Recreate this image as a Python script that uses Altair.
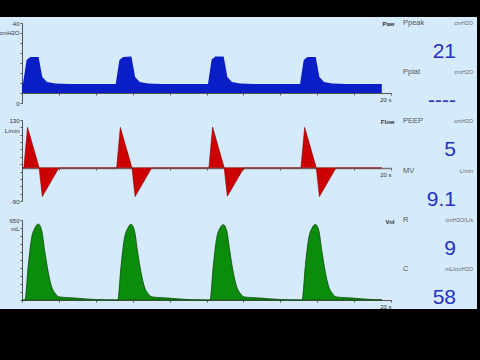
import altair as alt
import pandas as pd

# ---------------- data ----------------
# Airway pressure (cmH2O) vs time (s)
p_time = [0.0, 0.05, 0.25, 0.45, 0.90, 1.10, 1.35, 1.80, 2.55,
          5.08, 5.28, 5.48, 5.93, 6.13, 6.38, 6.83, 7.58,
          10.08, 10.28, 10.48, 10.93, 11.13, 11.38, 11.83, 12.58,
          15.07, 15.27, 15.47, 15.92, 16.12, 16.37, 16.82, 17.57, 19.5]
p_val = [9.5, 9.5, 21.5, 23.0, 23.0, 13.0, 10.5, 9.8, 9.5,
         9.5, 21.5, 23.0, 23.2, 13.0, 10.5, 9.8, 9.5,
         9.5, 21.8, 23.2, 23.2, 13.0, 10.5, 9.8, 9.5,
         9.5, 21.5, 23.0, 23.0, 13.0, 10.5, 9.8, 9.5, 9.5]

# Flow (L/min) vs time (s)
f_time = [0.0, 0.10, 0.30, 0.93, 1.10, 2.00,
          5.13, 5.33, 5.96, 6.13, 7.03,
          10.13, 10.33, 10.96, 11.13, 12.03,
          15.12, 15.32, 15.95, 16.12, 17.02, 19.5]
f_val = [0, 0, 110, 0, -78, 0,
         0, 110, 0, -78, 0,
         0, 111, 0, -77, 0,
         0, 110, 0, -78, 0, 0]

# Volume (mL) vs time (s)
v_time = [0.0, 0.16, 0.34, 0.52, 0.70, 0.88, 1.06, 1.24, 1.42, 1.61, 1.78, 2.06, 2.87, 4.06,
          5.19, 5.37, 5.55, 5.73, 5.91, 6.09, 6.27, 6.45, 6.64, 6.81, 7.09, 7.90, 9.09,
          10.19, 10.37, 10.55, 10.73, 10.91, 11.09, 11.27, 11.45, 11.64, 11.81, 12.09, 12.90, 14.09,
          15.18, 15.36, 15.54, 15.72, 15.90, 16.08, 16.26, 16.44, 16.63, 16.80, 17.08, 17.89, 19.08, 19.5]
v_val = [0, 0, 284, 504, 585, 617, 569, 390, 227, 106, 57, 24, 16, 3,
         0, 280, 500, 583, 615, 567, 388, 225, 105, 56, 24, 16, 3,
         0, 282, 502, 584, 612, 566, 389, 226, 106, 57, 24, 16, 3,
         0, 283, 503, 585, 614, 568, 390, 227, 106, 57, 24, 16, 3, 2]

# Monitored parameters (right column)
param_names = ["Ppeak", "Pplat", "PEEP", "MV", "R", "C"]
param_units = ["cmH2O", "cmH2O", "cmH2O", "L/min", "cmH2O/L/s", "mL/cmH2O"]
param_values = ["21", "----", "5", "9.1", "9", "58"]

# tick labels
p_ticks = [0, 5, 10, 15, 20, 25, 30, 35, 40]
f_ticks = [-90, -70, -50, -30, -10, 10, 30, 50, 70, 90, 110, 130]
v_ticks = [0, 65, 130, 195, 260, 325, 390, 455, 520, 585, 650]
t_ticks = [0, 2, 4, 6, 8, 10, 12, 14, 16, 18, 20]

p_df = pd.DataFrame({"t": p_time, "p": p_val})
f_df = pd.DataFrame({"t": f_time, "f": f_val})
v_df = pd.DataFrame({"t": v_time, "v": v_val})
par_df = pd.DataFrame({"idx": list(range(len(param_names))), "name": param_names,
                       "unit": param_units, "value": param_values})

# ---------------- layout ----------------
W, H = 477, 292
FONT = "Liberation Sans"
AX = "#555555"


def xscale():
    return alt.Scale(domain=[0, 20], range=[22, 391], nice=False, zero=False)


def xaxis(offset, title, title_y, dcolor=AX, dwidth=1.0):
    return alt.Axis(orient="bottom", offset=offset, values=t_ticks,
                    labelExpr="datum.value == 20 ? '20 s' : ''",
                    labelAlign="right", labelBaseline="top", labelPadding=1,
                    labelFlush=False, labelOverlap=False,
                    labelFontSize=6, labelColor="#333333", labelFont=FONT,
                    tickSize=2, tickColor=AX, domainColor=dcolor, domainWidth=dwidth,
                    grid=False, title=title, titleX=394, titleY=title_y,
                    titleAlign="right", titleBaseline="middle", titleFontSize=6,
                    titleFontWeight="bold", titleColor="#333333", titleFont=FONT)


def yaxis(vals, expr, title, title_y):
    return alt.Axis(orient="left", offset=-22, values=vals, labelExpr=expr,
                    labelPadding=1, labelFontSize=6, labelColor="#333333",
                    labelFont=FONT, labelOverlap=False, labelFlush=False,
                    labelBaseline="middle",
                    tickSize=2, tickColor=AX, domainColor=AX, grid=False,
                    title=title, titleAngle=0, titleX=-3, titleY=title_y,
                    titleAlign="right", titleBaseline="middle", titleFontSize=6,
                    titleFontWeight="normal", titleColor="#333333", titleFont=FONT)


pressure = alt.Chart(p_df).mark_area(color="#0a1ec8", interpolate="linear").encode(
    x=alt.X("t:Q", scale=xscale(), axis=xaxis(76 - H, "Paw", -70)),
    y=alt.Y("p:Q", scale=alt.Scale(domain=[0, 40], range=[86, 6], nice=False, zero=False),
            axis=yaxis(p_ticks, "datum.value == 40 ? '40' : datum.value == 0 ? '0' : ''", "cmH2O", 15)),
    y2=alt.datum(5),
)

flow = alt.Chart(f_df).mark_area(color="#cc0000", stroke="#8a0000", strokeWidth=0.6,
                                 interpolate="linear").encode(
    x=alt.X("t:Q", scale=xscale(), axis=xaxis(151 - H, "Flow", -47, "#777777", 1.5)),
    y=alt.Y("f:Q", scale=alt.Scale(domain=[-90, 130], range=[184, 103], nice=False),
            axis=yaxis(f_ticks, "datum.value == 130 ? '130' : datum.value == -90 ? '-90' : ''", "L/min", 113)),
)

volume = alt.Chart(v_df).mark_area(color="#0c8c0c", stroke="#0a4a0a", strokeWidth=0.8,
                                   interpolate="monotone").encode(
    x=alt.X("t:Q", scale=xscale(), axis=xaxis(283 - H, "Vol", -79)),
    y=alt.Y("v:Q", scale=alt.Scale(domain=[0, 650], range=[283, 203], nice=False),
            axis=yaxis(v_ticks, "datum.value == 650 ? '650' : ''", "mL", 211)),
)

row_scale = alt.Scale(domain=[0, 5], range=[6, 252], nice=False, zero=False)

names = alt.Chart(par_df).mark_text(align="left", baseline="middle", fontSize=7.5,
                                    color="#555555", font=FONT).encode(
    x=alt.value(403), y=alt.Y("idx:Q", scale=row_scale, axis=None), text="name:N")

units = alt.Chart(par_df).mark_text(align="right", baseline="middle", fontSize=5.5,
                                    color="#666666", font=FONT).encode(
    x=alt.value(473), y=alt.Y("idx:Q", scale=row_scale, axis=None), text="unit:N")

values = alt.Chart(par_df).mark_text(align="right", baseline="alphabetic", dy=35,
                                     fontSize=21, color="#2430c8", font=FONT).encode(
    x=alt.value(456), y=alt.Y("idx:Q", scale=row_scale, axis=None), text="value:N")

chart = alt.layer(pressure, flow, volume, names, units, values).resolve_scale(
    x="independent", y="independent"
).resolve_axis(
    x="independent", y="independent"
).properties(
    width=W, height=H,
    padding={"left": 0, "top": 17, "right": 3, "bottom": 51},
    autosize=alt.AutoSizeParams(type="none"),
    background="black",
).configure_view(fill="#d5eafa", stroke=None)

chart.save("out.html", embed_options={"renderer": "svg", "actions": False})
